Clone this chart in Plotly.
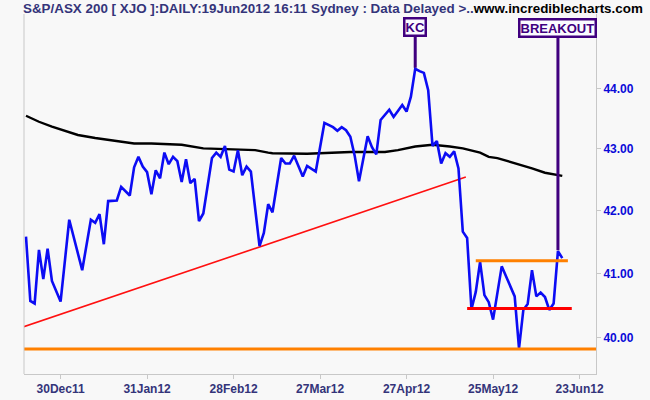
import math
import plotly.graph_objects as go

# ---- data ----
# bar index = trading-day number from 16Dec11 (bar 0)
close_bar = [0, 1, 2, 3, 4, 5, 6, 7, 8, 10, 13, 15, 16, 17, 18, 19, 21, 22, 24, 25,
             26, 27, 28, 29, 30, 31, 32, 33, 34, 35, 36, 37, 38, 39, 40, 41, 43, 44, 45, 46,
             47, 48, 49, 50, 51, 52, 54, 55, 56, 57, 59, 60, 61, 62, 64, 65, 67, 69, 71, 72,
             73, 74, 75, 76, 77, 79, 80, 81, 82, 84, 85, 87, 88, 89, 90, 91, 92, 93, 94, 95,
             96, 97, 98, 99, 100, 101, 102, 103, 104, 105, 106, 107, 108, 110, 113, 114, 115, 116, 117, 118,
             119, 120, 121, 122, 123, 124]
close_val = [41.58, 40.57, 40.53, 41.37, 40.91, 41.39, 40.88, 40.71, 40.56, 41.85, 41.05, 41.85, 41.80, 41.94, 41.46, 42.15, 42.16, 42.38, 42.24, 42.70,
             42.87, 42.71, 42.62, 42.26, 42.65, 42.52, 42.94, 42.75, 42.87, 42.80, 42.46, 42.83, 42.44, 42.51, 41.83, 41.95, 42.85, 42.94, 42.87, 43.05,
             42.66, 42.63, 42.98, 42.57, 42.71, 42.63, 41.43, 41.64, 42.10, 41.97, 42.85, 42.76, 42.76, 42.89, 42.55, 42.72, 42.63, 43.43, 43.36, 43.30,
             43.36, 43.31, 43.20, 42.89, 42.47, 43.21, 43.03, 42.91, 43.48, 43.65, 43.53, 43.73, 43.62, 43.87, 44.34, 44.30, 44.27, 43.98, 43.05, 43.13,
             42.76, 42.93, 42.87, 42.96, 42.68, 41.66, 41.56, 40.44, 40.71, 41.18, 40.66, 40.55, 40.28, 41.11, 40.64, 39.84, 40.43, 40.52, 41.05, 40.64,
             40.70, 40.63, 40.43, 40.53, 41.35, 41.24]

ma_bar = [0, 3, 6, 9, 12, 16, 19, 22, 25, 29, 36, 41, 47, 53, 56, 57, 65, 69, 75, 83,
          86, 90, 94, 98, 101, 105, 107, 109, 113, 117, 120, 123, 124]
ma_val = [43.55, 43.45, 43.37, 43.30, 43.23, 43.18, 43.15, 43.12, 43.09, 43.09, 43.07, 43.01, 43.00, 42.98, 42.94, 42.93, 42.92, 42.93, 42.95, 42.95,
          42.98, 43.04, 43.07, 43.04, 43.01, 42.94, 42.87, 42.85, 42.77, 42.68, 42.61, 42.57, 42.56]

trend_bar = [-0.5, 101.7]
trend_val = [40.17, 42.54]

support_bar = [-0.5, 132]
support_val = [39.83, 39.83]

resist_bar = [104, 125.3]
resist_val = [41.20, 41.20]

floor_bar = [102, 126.2]
floor_val = [40.45, 40.45]

tick_bar = [8, 28, 48, 68, 88, 108, 128]
tick_text = ["30Dec11", "31Jan12", "28Feb12", "27Mar12", "27Apr12", "25May12", "23Jun12"]

y_ticks = [40, 41, 42, 43, 44]

mark_text = ["KC", "BREAKOUT"]
mark_bar = [90, 123]

# ---- figure ----
BG = "#f8f8f8"
AXC = "#c8c8c8"
PURPLE = "#40007f"
FONT = "Liberation Sans, Arial, sans-serif"

fig = go.Figure()

fig.add_trace(go.Scatter(x=trend_bar, y=trend_val, mode="lines",
                         line=dict(color="#ff1010", width=1.6)))
fig.add_trace(go.Scatter(x=ma_bar, y=ma_val, mode="lines",
                         line=dict(color="#000000", width=2.4)))
fig.add_trace(go.Scatter(x=close_bar, y=close_val, mode="lines",
                         line=dict(color="#0c0cf4", width=2.6)))
fig.add_trace(go.Scatter(x=support_bar, y=support_val, mode="lines",
                         line=dict(color="#ff8000", width=3)))
fig.add_trace(go.Scatter(x=resist_bar, y=resist_val, mode="lines",
                         line=dict(color="#ff8000", width=3)))
fig.add_trace(go.Scatter(x=floor_bar, y=floor_val, mode="lines",
                         line=dict(color="#ff0000", width=3)))

val_at = dict(zip(close_bar, close_val))
offsets = [-42, -223]
for txt, b, ay in zip(mark_text, mark_bar, offsets):
    fig.add_annotation(x=b, y=math.log10(val_at[b]), xref="x", yref="y",
                       text="<b>%s</b>" % txt, showarrow=True, arrowhead=0,
                       arrowwidth=3, arrowcolor=PURPLE, ax=0, ay=ay, standoff=1,
                       font=dict(family=FONT, size=13, color=PURPLE),
                       bordercolor=PURPLE, borderwidth=2.5, borderpad=0,
                       bgcolor="#fbfbff")

fig.add_annotation(xref="paper", yref="paper", x=-0.006, y=1.014,
                   xanchor="left", yanchor="middle", showarrow=False,
                   text="<b>S&amp;P/ASX 200 [ XJO ]:DAILY:19Jun2012 16:11 Sydney : Data Delayed &gt;..</b>"
                        "<span style='color:#000000'><b>www.incrediblecharts.com</b></span>",
                   font=dict(family=FONT, size=13.4, color="#34347a"))

fig.update_layout(
    width=650, height=400,
    margin=dict(l=24, r=54, t=14, b=26, autoexpand=False),
    paper_bgcolor=BG, plot_bgcolor=BG,
    showlegend=False,
    hovermode=False,
    xaxis=dict(range=[-0.46, 131.8], showgrid=False, zeroline=False, automargin=False,
               showline=True, linecolor=AXC, linewidth=1,
               tickmode="array", tickvals=tick_bar, ticktext=tick_text,
               ticks="outside", ticklen=4, tickcolor=AXC,
               tickfont=dict(family=FONT, size=12, color="#34347a", weight="bold")),
    yaxis=dict(type="log", range=[math.log10(39.45), math.log10(45.28)], automargin=False,
               side="right", showgrid=False, zeroline=False,
               showline=True, linecolor=AXC, linewidth=1,
               tickmode="array", tickvals=y_ticks, tickformat=".2f",
               ticks="outside", ticklen=4, tickcolor=AXC,
               tickfont=dict(family=FONT, size=12, color="#0a0ad8", weight="bold")),
)
# left frame line
fig.add_shape(type="line", xref="paper", yref="paper", x0=0, x1=0, y0=0, y1=1,
              line=dict(color=AXC, width=1))

# remove the browser's default 8px body margin so the figure fills the window
fig.write_html("out.html", config={"displayModeBar": False},
               post_script="document.body.style.margin='0';document.body.style.background='#f8f8f8';")
